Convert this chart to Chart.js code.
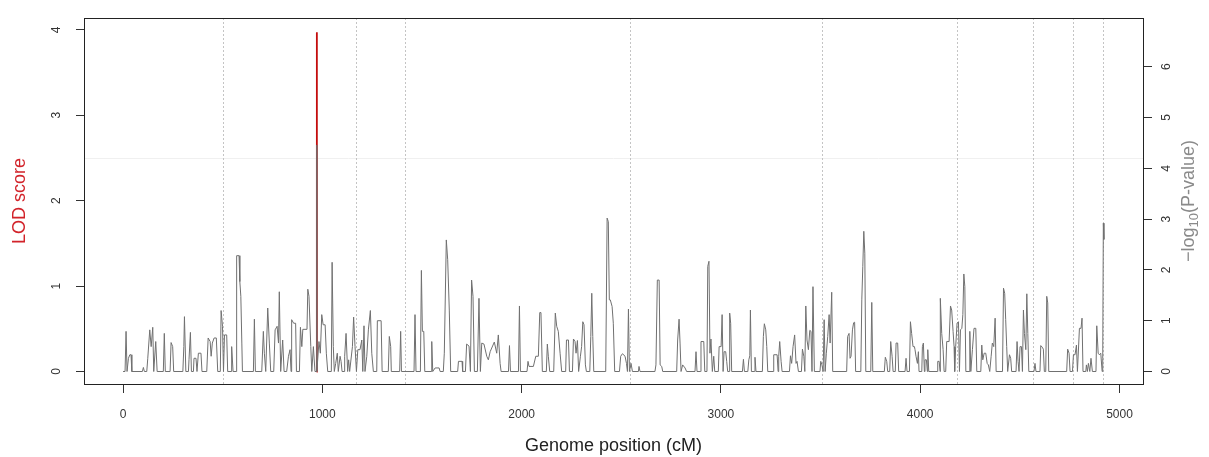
<!DOCTYPE html>
<html lang="en">
<head>
<meta charset="UTF-8" />
<title>Genome scan: LOD score and -log10(P)</title>
<script src="https://cdn.jsdelivr.net/npm/chart.js"></script>
<style>
  html, body { margin: 0; padding: 0; background: #fff; }
  #wrap { width: 1209px; height: 457px; }
</style>
</head>
<body>
<div id="wrap"><canvas id="scan" width="1209" height="457"></canvas></div>
<script>
// genome position (cM) and -log10(P) of the marker scan
const pvalPos = [
  0, 10, 15, 20, 27, 34, 40, 44, 97, 102, 107, 119, 124, 134, 141, 149, 154, 164, 171, 202,
  207, 212, 236, 241, 249, 254, 300, 305, 308, 315, 328, 331, 338, 343, 353, 356, 366, 371, 378, 391,
  396, 420, 427, 437, 442, 448, 457, 468, 475, 488, 492, 499, 504, 509, 520, 525, 542, 545, 552, 567,
  570, 582, 586, 591, 596, 599, 654, 659, 664, 696, 704, 709, 716, 726, 734, 741, 756, 763, 773, 780,
  784, 791, 801, 808, 821, 830, 838, 843, 846, 856, 866, 870, 885, 890, 897, 902, 923, 927, 933, 942,
  947, 955, 958, 963, 971, 972, 973, 983, 990, 997, 1004, 1014, 1020, 1027, 1045, 1049, 1055, 1060, 1067, 1075,
  1080, 1089, 1094, 1099, 1109, 1112, 1119, 1127, 1132, 1137, 1151, 1157, 1164, 1171, 1178, 1189, 1198, 1203, 1209, 1214,
  1223, 1231, 1241, 1248, 1256, 1273, 1276, 1295, 1300, 1331, 1336, 1343, 1346, 1388, 1393, 1397, 1460, 1465, 1470, 1492,
  1497, 1502, 1509, 1514, 1546, 1549, 1554, 1566, 1586, 1591, 1607, 1612, 1622, 1629, 1637, 1644, 1679, 1683, 1701, 1704,
  1718, 1724, 1736, 1743, 1749, 1756, 1763, 1778, 1786, 1793, 1800, 1811, 1825, 1833, 1842, 1863, 1875, 1883, 1892, 1897,
  1934, 1939, 1944, 1984, 1989, 1994, 2027, 2032, 2037, 2059, 2071, 2084, 2091, 2097, 2104, 2124, 2129, 2134, 2141, 2161,
  2169, 2176, 2184, 2193, 2201, 2221, 2225, 2235, 2240, 2255, 2260, 2268, 2273, 2280, 2286, 2295, 2301, 2307, 2313, 2320,
  2325, 2342, 2347, 2352, 2357, 2362, 2422, 2429, 2435, 2440, 2445, 2454, 2460, 2467, 2491, 2497, 2506, 2519, 2526, 2531,
  2536, 2541, 2549, 2556, 2586, 2589, 2594, 2669, 2674, 2681, 2690, 2695, 2703, 2708, 2778, 2783, 2790, 2795, 2800, 2808,
  2820, 2828, 2870, 2875, 2880, 2897, 2900, 2914, 2919, 2930, 2934, 2940, 2945, 2950, 2957, 2964, 2969, 2987, 2991, 3001,
  3006, 3011, 3016, 3024, 3029, 3034, 3041, 3044, 3049, 3054, 3108, 3113, 3118, 3135, 3140, 3145, 3148, 3153, 3168, 3171,
  3176, 3208, 3213, 3218, 3225, 3230, 3235, 3262, 3265, 3282, 3287, 3290, 3295, 3302, 3307, 3344, 3349, 3355, 3362, 3370,
  3377, 3382, 3389, 3404, 3409, 3416, 3421, 3426, 3432, 3439, 3446, 3452, 3457, 3462, 3469, 3497, 3501, 3507, 3513, 3518,
  3523, 3529, 3536, 3543, 3548, 3556, 3561, 3631, 3636, 3643, 3648, 3653, 3660, 3666, 3671, 3676, 3702, 3707, 3712, 3717,
  3722, 3727, 3752, 3757, 3762, 3820, 3825, 3832, 3837, 3847, 3852, 3859, 3864, 3875, 3879, 3887, 3892, 3924, 3929, 3934,
  3946, 3951, 3957, 3964, 3971, 3974, 3979, 3986, 3991, 3994, 4008, 4011, 4016, 4021, 4024, 4031, 4036, 4038, 4043, 4085,
  4088, 4095, 4100, 4101, 4108, 4115, 4120, 4128, 4133, 4145, 4152, 4158, 4165, 4170, 4173, 4178, 4185, 4192, 4197, 4202,
  4209, 4214, 4219, 4224, 4229, 4245, 4249, 4254, 4262, 4270, 4279, 4284, 4304, 4309, 4314, 4321, 4329, 4336, 4342, 4349,
  4356, 4362, 4369, 4376, 4381, 4413, 4418, 4424, 4429, 4434, 4439, 4448, 4454, 4459, 4481, 4486, 4491, 4496, 4501, 4508,
  4513, 4518, 4523, 4530, 4535, 4540, 4545, 4571, 4576, 4581, 4601, 4605, 4612, 4618, 4623, 4630, 4635, 4640, 4645, 4735,
  4740, 4747, 4752, 4764, 4769, 4777, 4784, 4789, 4799, 4807, 4812, 4817, 4831, 4834, 4839, 4844, 4851, 4857, 4864, 4882,
  4886, 4893, 4899, 4906, 4913, 4916, 4919, 4922
];
const pvalLog = [
  0, 0, 0.79, 0, 0.26, 0.33, 0.33, 0, 0, 0.08, 0, 0, 0.26, 0.82, 0.49, 0.87, 0, 0.59, 0, 0,
  0.75, 0, 0, 0.57, 0.49, 0, 0, 0.49, 1.08, 0, 0, 0.24, 0.77, 0, 0, 0.26, 0.26, 0, 0.36, 0.36,
  0, 0, 0.66, 0.59, 0.3, 0.56, 0.66, 0.66, 0, 0, 1.2, 0.89, 0, 0.72, 0.72, 0, 0, 0.49, 0, 0,
  2.28, 2.28, 1.77, 1.48, 0.56, 0, 0, 1.03, 0, 0, 0.79, 0.36, 0, 1.25, 0.56, 0, 0, 0.82, 0.89, 0.56,
  1.57, 0, 0.62, 0, 0, 0.3, 0.43, 0, 1.02, 0.95, 0.95, 0, 0, 0.87, 0.49, 0.83, 0.83, 1.62, 1.48, 0.49,
  0, 0.49, 0.49, 0, 0, 4.46, 0, 0.59, 0.36, 1.12, 0.92, 0.92, 0.36, 0, 0, 2.15, 0.49, 0, 0.16, 0.36,
  0, 0.3, 0.2, 0, 0, 0.3, 0.75, 0, 0.23, 0, 0.49, 1.07, 0.49, 0, 0.43, 0.43, 0.62, 0, 0.9, 0,
  0.3, 0.82, 1.2, 0.36, 0, 0, 1.0, 1.0, 0, 0, 0.69, 0.49, 0, 0, 0.79, 0, 0, 1.12, 0, 0,
  1.99, 0.79, 0.79, 0, 0, 0.59, 0, 0.07, 0.07, 0, 0, 0.36, 2.59, 2.2, 1.21, 0, 0, 0.2, 0.2, 0,
  0, 0.54, 0.5, 0, 1.8, 1.48, 0, 0, 1.44, 0, 0.56, 0.54, 0.3, 0.23, 0.39, 0.58, 0.36, 0.72, 0.16, 0,
  0, 0.51, 0, 0, 1.29, 0, 0, 0.2, 0.1, 0.1, 0.3, 0.3, 1.16, 1.16, 0, 0, 0.54, 0.3, 0, 0,
  1.15, 0.89, 0.79, 0.36, 0, 0, 0.62, 0.62, 0, 0, 0.64, 0.59, 0.36, 0.61, 0, 0.3, 0.49, 0.98, 0.92, 0.13,
  0, 0, 0.69, 1.54, 0.69, 0, 0, 3.02, 2.95, 1.41, 1.41, 1.28, 0.95, 0, 0, 0.3, 0.35, 0.3, 0.16, 0,
  1.23, 0, 0.16, 0, 0, 0.1, 0, 0, 0.13, 1.8, 1.8, 0.13, 0.1, 0, 0, 0.62, 1.03, 0.56, 0, 0.13,
  0.07, 0, 0, 0.39, 0, 0, 0.59, 0.59, 0, 0, 2.07, 2.17, 0.36, 0.64, 0, 0.3, 0, 0, 0.49, 0.49,
  1.12, 0, 0.39, 0.39, 0.2, 0, 0, 1.15, 0.95, 0, 0, 0.24, 0, 0, 0.23, 0.31, 1.21, 0, 0, 0.28,
  0, 0, 0.69, 0.94, 0.82, 0.49, 0, 0, 0.33, 0.33, 0, 0.3, 0.59, 0.2, 0, 0, 0.31, 0.16, 0.49, 0.72,
  0.16, 0.2, 0, 0, 0.44, 0.3, 0, 1.29, 0.62, 0.43, 0.81, 0.79, 0, 1.67, 0, 0, 0.2, 0.13, 0, 1.02,
  0, 0.36, 0.69, 1.12, 0.56, 1.56, 0, 0, 0.69, 0.75, 0.26, 0.3, 0.82, 0.96, 0.97, 0, 0, 1.41, 2.07, 2.76,
  2.33, 0, 0, 1.36, 0, 0, 0.28, 0.2, 0, 0, 0.59, 0.3, 0, 0, 0.56, 0.56, 0, 0, 0.26, 0,
  0, 0.98, 0.75, 0.49, 0.49, 0.43, 0.3, 0.16, 0.39, 0, 0, 0.49, 0.56, 0, 0.23, 0.23, 0, 0.43, 0, 0,
  0.2, 0.2, 0, 1.44, 0.75, 0.43, 0, 0, 0.59, 0.59, 1.29, 1.21, 0.79, 0.49, 0, 0.49, 0.95, 0.98, 0, 0.82,
  0.85, 1.12, 1.92, 1.67, 0, 0, 0.79, 0, 0.43, 0.85, 0.85, 0, 0, 0.52, 0.23, 0.36, 0.36, 0.16, 0.13, 0,
  0.3, 0.56, 0.49, 1.05, 0, 0, 1.64, 1.54, 1.02, 0.49, 0, 0.33, 0.26, 0, 0, 0.59, 0.2, 0, 0.49, 0.49,
  0, 1.21, 0.75, 0.43, 1.53, 0.75, 0, 0, 0.16, 0, 0, 0.51, 0.48, 0.44, 0, 0, 1.48, 1.35, 0, 0,
  0.44, 0.36, 0, 0, 0.33, 0.33, 0.52, 0, 0.85, 0.85, 1.05, 0, 0, 0.13, 0, 0.16, 0, 0.26, 0, 0,
  0.9, 0.36, 0.33, 0.36, 0, 0.26, 2.92, 2.6
];

// LOD score (single significant marker)
const lodPos = [971, 972, 973];
const lodScore = [0, 3.97, 0];

// chromosome boundaries (cM) and LOD threshold
const chromBreaks = [503, 1168, 1415, 2544, 3509, 4183, 4568, 4768, 4919];
const lodThreshold = 2.5;

const xTicks = [0, 1000, 2000, 3000, 4000, 5000];
const lodTicks = [0, 1, 2, 3, 4];
const pvalTicks = [0, 1, 2, 3, 4, 5, 6];

const FONT = "'Liberation Sans', Arial, Helvetica, sans-serif";

function setTicks(list) {
  return function (scale) { scale.ticks = list.map(v => ({ value: v })); };
}

// box, rotated y labels, axis titles and chromosome separators (R base graphics look)
const rStyle = {
  id: 'rStyle',
  beforeDatasetsDraw(chart) {
    const { ctx, chartArea: a, scales } = chart;
    ctx.save();
    // faint LOD threshold
    const ty = Math.round(scales.y.getPixelForValue(lodThreshold)) + 0.5;
    ctx.strokeStyle = '#f0f0f0';
    ctx.lineWidth = 1;
    ctx.beginPath();
    ctx.moveTo(a.left, ty);
    ctx.lineTo(a.right, ty);
    ctx.stroke();
    // chromosome separators
    ctx.strokeStyle = '#c4c4c4';
    ctx.setLineDash([2, 2]);
    chromBreaks.forEach(b => {
      const px = Math.round(scales.x.getPixelForValue(b)) + 0.5;
      ctx.beginPath();
      ctx.moveTo(px, a.top);
      ctx.lineTo(px, a.bottom);
      ctx.stroke();
    });
    ctx.restore();
  },
  afterDraw(chart) {
    const { ctx, chartArea: a, scales } = chart;
    ctx.save();
    ctx.strokeStyle = '#222';
    ctx.lineWidth = 1;
    ctx.strokeRect(Math.round(a.left) + 0.5, Math.round(a.top) + 0.5,
      Math.round(a.right - a.left), Math.round(a.bottom - a.top));

    ctx.fillStyle = '#333';
    ctx.font = '12px ' + FONT;
    ctx.textAlign = 'center';
    ctx.textBaseline = 'middle';
    lodTicks.forEach(v => {
      ctx.save();
      ctx.translate(57, scales.y.getPixelForValue(v));
      ctx.rotate(-Math.PI / 2);
      ctx.fillText(String(v), 0, 0);
      ctx.restore();
    });
    pvalTicks.forEach(v => {
      ctx.save();
      ctx.translate(1167, scales.y1.getPixelForValue(v));
      ctx.rotate(-Math.PI / 2);
      ctx.fillText(String(v), 0, 0);
      ctx.restore();
    });

    const midY = (a.top + a.bottom) / 2;
    // left title
    ctx.save();
    ctx.translate(20, midY);
    ctx.rotate(-Math.PI / 2);
    ctx.fillStyle = '#d2232a';
    ctx.font = '18px ' + FONT;
    ctx.fillText('LOD score', 0, 0);
    ctx.restore();

    // right title with subscript
    ctx.save();
    ctx.translate(1189, midY);
    ctx.rotate(-Math.PI / 2);
    ctx.fillStyle = '#8a8a8a';
    ctx.textAlign = 'left';
    const big = '18px ' + FONT, small = '13px ' + FONT;
    ctx.font = big;
    const w1 = ctx.measureText('\u2212log').width;
    const w3 = ctx.measureText('(P-value)').width;
    ctx.font = small;
    const w2 = ctx.measureText('10').width;
    let x0 = -(w1 + w2 + w3) / 2;
    ctx.font = big;
    ctx.fillText('\u2212log', x0, 0);
    ctx.font = small;
    ctx.fillText('10', x0 + w1, 5);
    ctx.font = big;
    ctx.fillText('(P-value)', x0 + w1 + w2, 0);
    ctx.restore();

    // x title
    ctx.fillStyle = '#222';
    ctx.font = '18px ' + FONT;
    ctx.textAlign = 'center';
    ctx.fillText('Genome position (cM)', (a.left + a.right) / 2, 446);
    ctx.restore();
  }
};

new Chart(document.getElementById('scan'), {
  type: 'line',
  data: {
    datasets: [
      {
        label: '-log10(P)',
        data: pvalPos.map((x, i) => ({ x: x, y: pvalLog[i] })),
        yAxisID: 'y1',
        borderColor: '#707070',
        borderWidth: 1,
        pointRadius: 0,
        tension: 0,
        order: 0
      },
      {
        label: 'LOD',
        data: lodPos.map((x, i) => ({ x: x, y: lodScore[i] })),
        yAxisID: 'y',
        borderColor: '#c40d0d',
        borderWidth: 1.8,
        pointRadius: 0,
        tension: 0,
        order: 1
      }
    ]
  },
  options: {
    responsive: false,
    animation: false,
    devicePixelRatio: 1,
    layout: { padding: { top: 18, left: 0, right: 0, bottom: 0 } },
    plugins: { legend: { display: false }, tooltip: { enabled: false } },
    scales: {
      x: {
        type: 'linear',
        min: -196,
        max: 5118,
        afterBuildTicks: setTicks(xTicks),
        afterFit: s => { s.height = 73; },
        ticks: {
          color: '#333',
          font: { family: FONT, size: 12 },
          padding: 14,
          maxRotation: 0,
          autoSkip: false,
          callback: v => String(v)
        },
        grid: { drawOnChartArea: false, color: '#333', tickLength: 9 },
        border: { display: false }
      },
      y: {
        position: 'left',
        min: -0.146,
        max: 4.138,
        afterBuildTicks: setTicks(lodTicks),
        afterFit: s => { s.width = 84; },
        ticks: { display: false },
        grid: { drawOnChartArea: false, color: '#333', tickLength: 8 },
        border: { display: false }
      },
      y1: {
        position: 'right',
        min: -0.246,
        max: 6.959,
        afterBuildTicks: setTicks(pvalTicks),
        afterFit: s => { s.width = 66; },
        ticks: { display: false },
        grid: { drawOnChartArea: false, color: '#333', tickLength: 9 },
        border: { display: false }
      }
    }
  },
  plugins: [rStyle]
});
</script>
</body>
</html>
